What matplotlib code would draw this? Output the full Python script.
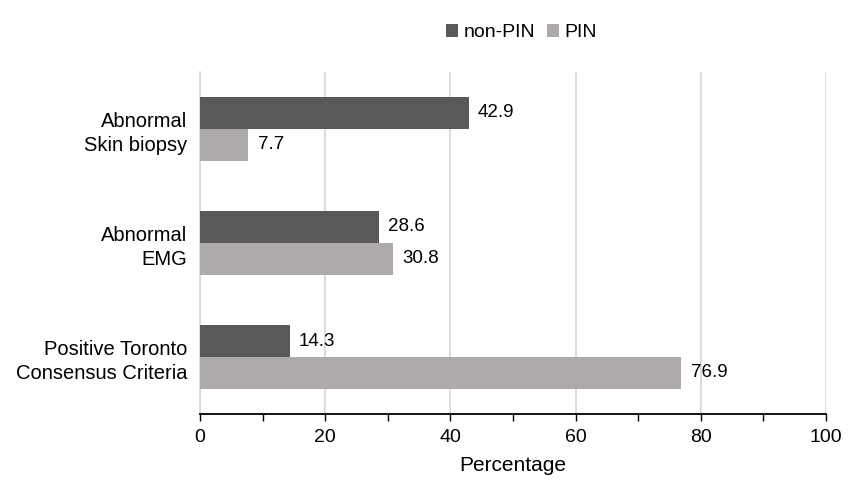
import matplotlib
matplotlib.use("Agg")
import matplotlib.pyplot as plt
import numpy as np

plt.rcParams['font.family'] = ['Liberation Sans', 'DejaVu Sans']

categories = ["Abnormal\nSkin biopsy", "Abnormal\nEMG", "Positive Toronto\nConsensus Criteria"]
non_pin = [42.9, 28.6, 14.3]
pin = [7.7, 30.8, 76.9]

dark = '#595959'
light = '#AEAAAA'

fig = plt.figure(figsize=(8.65, 5.03), dpi=100)
ax = fig.add_axes([0.2312, 0.177, 0.7238, 0.680])

y = np.arange(len(categories))
h = 0.28
b1 = ax.barh(y - h / 2, non_pin, height=h, color=dark, label='non-PIN', zorder=3)
b2 = ax.barh(y + h / 2, pin, height=h, color=light, label='PIN', zorder=3)

# value labels to the right of each bar
for bars, vals in [(b1, non_pin), (b2, pin)]:
    for bar, v in zip(bars, vals):
        ax.text(v + 1.5, bar.get_y() + bar.get_height() / 2, f"{v:.1f}",
                va='center', ha='left', fontsize=13.5)

ax.set_xlim(0, 100)
ax.set_ylim(2.5, -0.5)
ax.set_yticks(y)
ax.set_yticklabels(categories, fontsize=14.5, ha='right', linespacing=1.35)
ax.tick_params(axis='y', length=0, pad=9)
ax.set_xticks(np.arange(0, 101, 20))
ax.set_xticks(np.arange(0, 101, 10), minor=True)
ax.tick_params(axis='x', which='both', direction='out', length=5, width=1,
               labelsize=14, colors='black', pad=6)
ax.grid(axis='x', color='#D9D9D9', linewidth=1.3, zorder=0)

for s in ['top', 'right']:
    ax.spines[s].set_visible(False)
ax.spines['left'].set_color('#D9D9D9')
ax.spines['left'].set_linewidth(1.3)
ax.spines['bottom'].set_color('black')
ax.spines['bottom'].set_linewidth(1.3)

ax.set_xlabel('Percentage', fontsize=15, labelpad=7)

fig.legend(handles=[b1, b2], loc='center', bbox_to_anchor=(0.603, 0.935), ncol=2,
           frameon=False, fontsize=14, handlelength=0.6, handleheight=0.6,
           handletextpad=0.3, columnspacing=0.6)

fig.savefig('out.png', dpi=100)
